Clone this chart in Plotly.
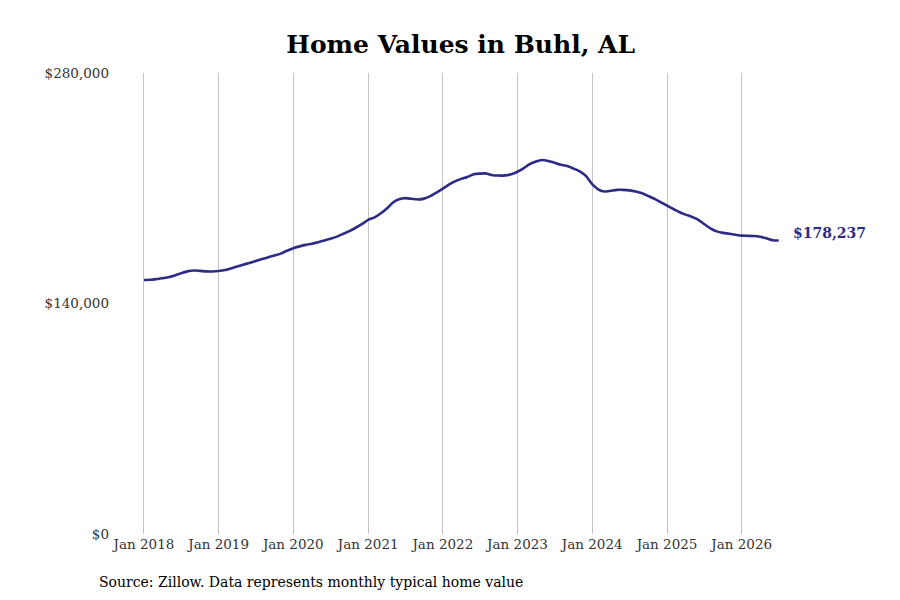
import pandas as pd
import plotly.graph_objects as go

# Monthly typical home value, Buhl AL
dates = pd.date_range("2018-01-01", "2026-07-01", freq="MS")
values = [
    # 2018
    154300, 154400, 154800, 155400, 156000, 157000, 158400, 159500, 160000, 159800, 159500, 159400,
    # 2019
    159700, 160300, 161300, 162500, 163600, 164600, 165800, 167000, 168100, 169200, 170300, 172000,
    # 2020
    173600, 174700, 175600, 176300, 177200, 178300, 179400, 180600, 182300, 184000, 186000, 188200,
    # 2021
    190800, 192300, 194500, 197500, 201200, 203300, 204000, 203600, 203200, 203700, 205200, 207400,
    # 2022
    209800, 212300, 214200, 215700, 216800, 218500, 218900, 219000, 217900, 217700, 217800, 218500,
    # 2023
    220000, 222200, 224600, 226300, 227200, 226600, 225500, 224300, 223500, 222000, 220300, 217500,
    # 2024
    212500, 209200, 208000, 208500, 209000, 209000, 208700, 208000, 207000, 205300, 203500, 201500,
    # 2025
    199400, 197400, 195600, 194000, 192700, 191000, 188300, 185700, 183800, 182900, 182400, 181800,
    # 2026
    181200, 181100, 181000, 180500, 179600, 178400, 178237,
]

tick_dates = pd.date_range("2018-01-01", "2026-01-01", freq="YS")
tick_labels = [f"Jan {d.year}" for d in tick_dates]
y_ticks = [0, 140000, 280000]
y_labels = ["$0", "$140,000", "$280,000"]

line_color = "#2e2b86"
font_family = "DejaVu Serif"

fig = go.Figure()
fig.add_trace(
    go.Scatter(
        x=dates,
        y=values,
        mode="lines",
        line=dict(color=line_color, width=2.6, shape="spline", smoothing=0.6),
        hoverinfo="skip",
        showlegend=False,
    )
)

# End label
fig.add_annotation(
    x=dates[-1],
    y=values[-1],
    text=f"<b>${values[-1]:,}</b>",
    showarrow=False,
    xanchor="left",
    xshift=12,
    yshift=8,
    font=dict(family=font_family, size=14, color=line_color),
)

# Source note
fig.add_annotation(
    x=-0.0175,
    y=-0.104,
    xref="paper",
    yref="paper",
    xanchor="left",
    yanchor="middle",
    text="Source: Zillow. Data represents monthly typical home value",
    showarrow=False,
    font=dict(family=font_family, size=14, color="#000000"),
)

fig.update_layout(
    title=dict(
        text="<b>Home Values in Buhl, AL</b>",
        x=0.503,
        xanchor="center",
        y=0.94,
        yanchor="middle",
        font=dict(family=font_family, size=25, color="#000000"),
    ),
    width=900,
    height=600,
    margin=dict(l=102, r=38, t=65, b=74),
    plot_bgcolor="white",
    paper_bgcolor="white",
    font=dict(family=font_family, size=14, color="#333333"),
    xaxis=dict(
        range=["2017-07-19", "2027-09-20"],
        tickvals=tick_dates,
        ticktext=tick_labels,
        showgrid=True,
        gridcolor="#c4c4c4",
        gridwidth=1,
        showline=False,
        zeroline=False,
        ticks="",
        automargin=False,
        tickfont=dict(family=font_family, size=13.5, color="#333333"),
    ),
    yaxis=dict(
        range=[0, 280000],
        tickvals=y_ticks,
        ticktext=y_labels,
        showgrid=False,
        zeroline=False,
        showline=False,
        ticks="",
        automargin=False,
        tickfont=dict(family=font_family, size=13.5, color="#333333"),
    ),
)

fig.write_html("out.html")
